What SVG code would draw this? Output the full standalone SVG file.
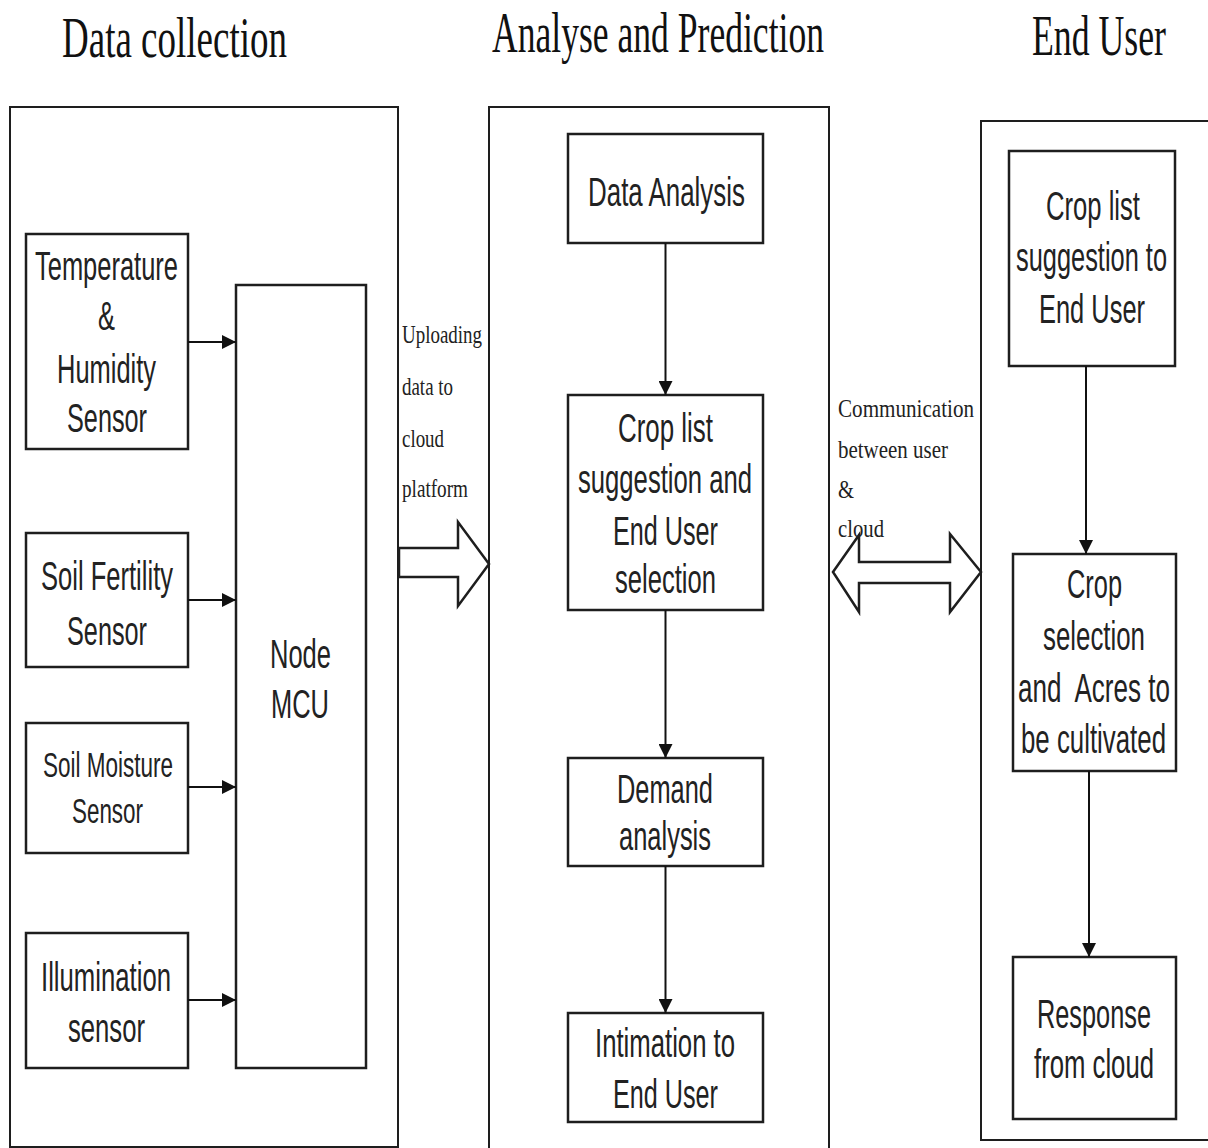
<svg xmlns="http://www.w3.org/2000/svg" width="1208" height="1148" viewBox="0 0 1208 1148">
  <defs>
    <style>
      .panel { fill: #ffffff; stroke: #1e1e1e; stroke-width: 2; }
      .box { fill: #ffffff; stroke: #1e1e1e; stroke-width: 2.5; }
      .title { font-family: "Liberation Serif", serif; font-size: 58px; fill: #111; }
      .lbl { font-family: "Liberation Sans", Arial, sans-serif; font-size: 41px; fill: #222; }
      .lbls { font-family: "Liberation Sans", Arial, sans-serif; font-size: 35px; fill: #222; }
      .note { font-family: "Liberation Serif", serif; font-size: 26px; fill: #222; }
      .conn { stroke: #111; stroke-width: 2; fill: none; }
      .block { fill: #ffffff; stroke: #1e1e1e; stroke-width: 2.5; stroke-linejoin: miter; }
    </style>
    <marker id="ah" markerUnits="userSpaceOnUse" markerWidth="14" markerHeight="14" refX="14" refY="7" orient="auto">
      <path d="M0,0 L14,7 L0,14 z" fill="#111"/>
    </marker>
  </defs>
  <rect width="1208" height="1148" fill="#ffffff"/>

  <g id="titles">
    <text class="title" x="62" y="57" textLength="225" lengthAdjust="spacingAndGlyphs">Data collection</text>
    <text class="title" x="492" y="52" textLength="332" lengthAdjust="spacingAndGlyphs">Analyse and Prediction</text>
    <text class="title" x="1032" y="55" textLength="134" lengthAdjust="spacingAndGlyphs">End User</text>
  </g>

  <g id="panel-data-collection"><rect class="panel" x="10" y="107" width="388" height="1040"/></g>
  <g id="panel-analyse"><rect class="panel" x="489" y="107" width="340" height="1045"/></g>
  <g id="panel-end-user"><rect class="panel" x="981" y="121" width="230" height="1019"/></g>

  <g id="node-temperature">
    <rect class="box" x="26" y="234" width="162" height="215"/>
    <text class="lbl" x="35" y="280" textLength="143" lengthAdjust="spacingAndGlyphs">Temperature</text>
    <text class="lbl" x="98" y="330" textLength="17" lengthAdjust="spacingAndGlyphs">&amp;</text>
    <text class="lbl" x="57" y="383" textLength="99" lengthAdjust="spacingAndGlyphs">Humidity</text>
    <text class="lbl" x="67" y="432" textLength="80" lengthAdjust="spacingAndGlyphs">Sensor</text>
  </g>
  <g id="node-soil-fertility">
    <rect class="box" x="26" y="533" width="162" height="134"/>
    <text class="lbl" x="41" y="590" textLength="132" lengthAdjust="spacingAndGlyphs">Soil Fertility</text>
    <text class="lbl" x="67" y="645" textLength="80" lengthAdjust="spacingAndGlyphs">Sensor</text>
  </g>
  <g id="node-soil-moisture">
    <rect class="box" x="26" y="723" width="162" height="130"/>
    <text class="lbls" x="43" y="777" textLength="130" lengthAdjust="spacingAndGlyphs">Soil Moisture</text>
    <text class="lbls" x="72" y="823" textLength="71" lengthAdjust="spacingAndGlyphs">Sensor</text>
  </g>
  <g id="node-illumination">
    <rect class="box" x="26" y="933" width="162" height="135"/>
    <text class="lbl" x="41" y="991" textLength="130" lengthAdjust="spacingAndGlyphs">Illumination</text>
    <text class="lbl" x="68" y="1042" textLength="77" lengthAdjust="spacingAndGlyphs">sensor</text>
  </g>
  <g id="node-nodemcu">
    <rect class="box" x="236" y="285" width="130" height="783"/>
    <text class="lbl" x="270" y="668" textLength="61" lengthAdjust="spacingAndGlyphs">Node</text>
    <text class="lbl" x="271" y="718" textLength="58" lengthAdjust="spacingAndGlyphs">MCU</text>
  </g>

  <g id="node-data-analysis">
    <rect class="box" x="568" y="134" width="195" height="109"/>
    <text class="lbl" x="588" y="206" textLength="157" lengthAdjust="spacingAndGlyphs">Data Analysis</text>
  </g>
  <g id="node-crop-list-selection">
    <rect class="box" x="568" y="395" width="195" height="215"/>
    <text class="lbl" x="618" y="442" textLength="95" lengthAdjust="spacingAndGlyphs">Crop list</text>
    <text class="lbl" x="578" y="493" textLength="174" lengthAdjust="spacingAndGlyphs">suggestion and</text>
    <text class="lbl" x="613" y="545" textLength="105" lengthAdjust="spacingAndGlyphs">End User</text>
    <text class="lbl" x="615" y="593" textLength="101" lengthAdjust="spacingAndGlyphs">selection</text>
  </g>
  <g id="node-demand">
    <rect class="box" x="568" y="758" width="195" height="108"/>
    <text class="lbl" x="617" y="803" textLength="96" lengthAdjust="spacingAndGlyphs">Demand</text>
    <text class="lbl" x="619" y="850" textLength="92" lengthAdjust="spacingAndGlyphs">analysis</text>
  </g>
  <g id="node-intimation">
    <rect class="box" x="568" y="1013" width="195" height="109"/>
    <text class="lbl" x="595" y="1057" textLength="140" lengthAdjust="spacingAndGlyphs">Intimation to</text>
    <text class="lbl" x="613" y="1108" textLength="105" lengthAdjust="spacingAndGlyphs">End User</text>
  </g>

  <g id="node-crop-list-user">
    <rect class="box" x="1009" y="151" width="166" height="215"/>
    <text class="lbl" x="1046" y="220" textLength="94" lengthAdjust="spacingAndGlyphs">Crop list</text>
    <text class="lbl" x="1016" y="271" textLength="151" lengthAdjust="spacingAndGlyphs">suggestion to</text>
    <text class="lbl" x="1039" y="323" textLength="106" lengthAdjust="spacingAndGlyphs">End User</text>
  </g>
  <g id="node-crop-selection">
    <rect class="box" x="1013" y="554" width="163" height="217"/>
    <text class="lbl" x="1067" y="598" textLength="55" lengthAdjust="spacingAndGlyphs">Crop</text>
    <text class="lbl" x="1043" y="650" textLength="102" lengthAdjust="spacingAndGlyphs">selection</text>
    <text class="lbl" x="1018" y="702" textLength="152" lengthAdjust="spacingAndGlyphs" style="white-space:pre">and  Acres to</text>
    <text class="lbl" x="1021" y="753" textLength="145" lengthAdjust="spacingAndGlyphs">be cultivated</text>
  </g>
  <g id="node-response">
    <rect class="box" x="1013" y="957" width="163" height="162"/>
    <text class="lbl" x="1037" y="1028" textLength="114" lengthAdjust="spacingAndGlyphs">Response</text>
    <text class="lbl" x="1034" y="1078" textLength="120" lengthAdjust="spacingAndGlyphs">from cloud</text>
  </g>

  <g id="connectors">
    <line class="conn" x1="188" y1="342" x2="236" y2="342" marker-end="url(#ah)"/>
    <line class="conn" x1="188" y1="600" x2="236" y2="600" marker-end="url(#ah)"/>
    <line class="conn" x1="188" y1="787" x2="236" y2="787" marker-end="url(#ah)"/>
    <line class="conn" x1="188" y1="1000" x2="236" y2="1000" marker-end="url(#ah)"/>
    <line class="conn" x1="665.5" y1="243" x2="665.5" y2="395" marker-end="url(#ah)"/>
    <line class="conn" x1="665.5" y1="610" x2="665.5" y2="758" marker-end="url(#ah)"/>
    <line class="conn" x1="665.5" y1="866" x2="665.5" y2="1013" marker-end="url(#ah)"/>
    <line class="conn" x1="1086" y1="366" x2="1086" y2="554" marker-end="url(#ah)"/>
    <line class="conn" x1="1089" y1="771" x2="1089" y2="957" marker-end="url(#ah)"/>
    <polygon class="block" points="399,548 458,548 458,522 489,564 458,606 458,577 399,577"/>
    <polygon class="block" points="833,572 859,535 859,562 950,562 950,534 981,572 950,612 950,583 859,583 859,612"/>
    <text class="note" x="402" y="343" textLength="80" lengthAdjust="spacingAndGlyphs">Uploading</text>
    <text class="note" x="402" y="395" textLength="51" lengthAdjust="spacingAndGlyphs">data to</text>
    <text class="note" x="402" y="447" textLength="42" lengthAdjust="spacingAndGlyphs">cloud</text>
    <text class="note" x="402" y="497" textLength="66" lengthAdjust="spacingAndGlyphs">platform</text>
    <text class="note" x="838" y="417" textLength="136" lengthAdjust="spacingAndGlyphs">Communication</text>
    <text class="note" x="838" y="458" textLength="110" lengthAdjust="spacingAndGlyphs">between user</text>
    <text class="note" x="838" y="498" textLength="16" lengthAdjust="spacingAndGlyphs">&amp;</text>
    <text class="note" x="838" y="537" textLength="46" lengthAdjust="spacingAndGlyphs">cloud</text>
  </g>
</svg>
